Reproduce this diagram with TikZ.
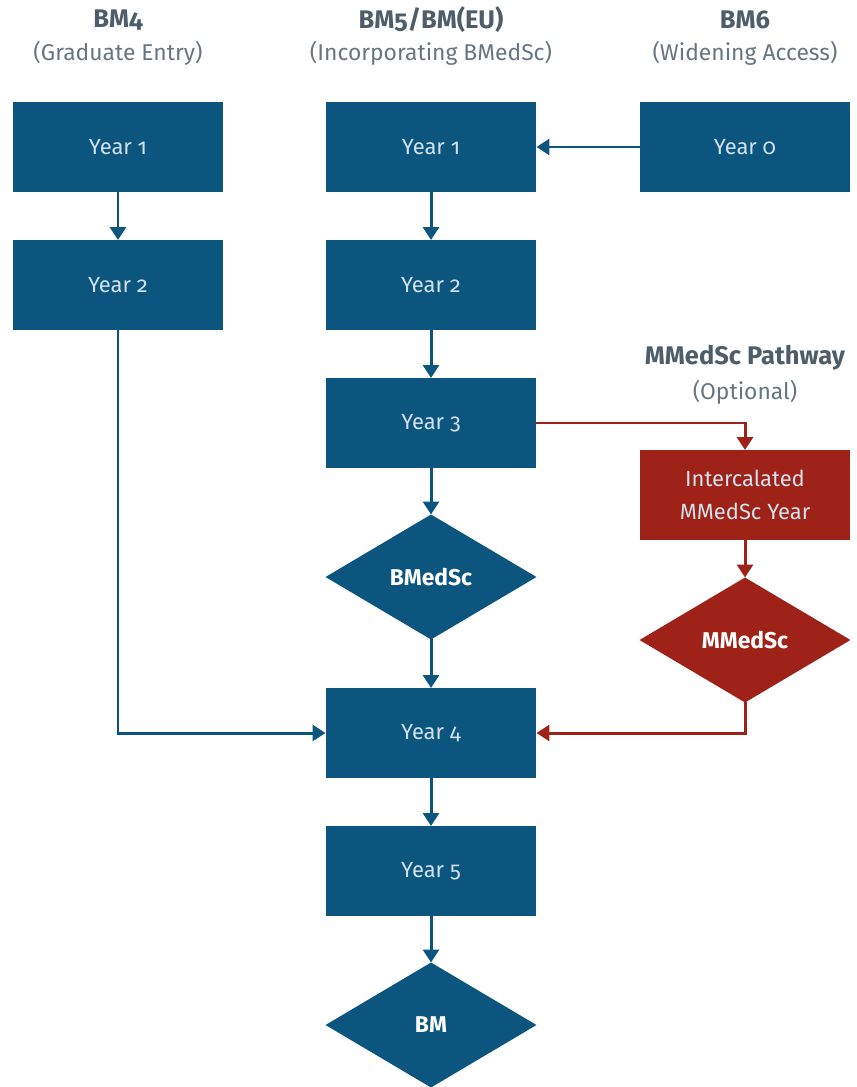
\documentclass[tikz,border=0pt]{standalone}
\usepackage{fontspec}
\setmainfont{Fira Sans}[Numbers=OldStyle]
\usepackage{xcolor}
\usepackage{tikz}
\usetikzlibrary{shapes.geometric,arrows.meta}

\definecolor{navy}{HTML}{0B557E}
\definecolor{brick}{HTML}{9E2217}
\definecolor{headgray}{HTML}{4D5D69}
\definecolor{boxtext}{HTML}{D2E2EC}

\begin{document}
\begin{tikzpicture}[x=0.02cm, y=-0.02cm,
    every node/.style={font=\fontsize{12.5}{15}\selectfont},
    yearbox/.style={rectangle, fill=#1, minimum width=4.22cm, minimum height=1.8cm,
        inner sep=0pt, outer sep=0pt, text=boxtext, align=center},
    yearbox/.default=navy,
    award/.style={diamond, fill=#1, minimum width=4.22cm, minimum height=2.5cm,
        inner sep=0pt, outer sep=0pt, text=white, font=\fontsize{13}{15}\selectfont\bfseries},
    award/.default=navy,
    title/.style={text=headgray, font=\fontsize{14.5}{17}\selectfont\bfseries},
    subtitle/.style={text=headgray!85, font=\fontsize{13}{15}\selectfont},
    flow/.style={draw=#1, line width=1.7pt, -{Triangle[length=2.6mm,width=3.2mm]}},
    flow/.default=navy]
    \useasboundingbox (0,0) rectangle (856,1087);

    % Column headings
    \node[title] (h4) at (118,20) {BM4};
    \node[subtitle] (s4) at (118,53) {(Graduate Entry)};
    \node[title] (h5) at (431,20) {BM5/BM(EU)};
    \node[subtitle] (s5) at (431,53) {(Incorporating BMedSc)};
    \node[title] (h6) at (745,20) {BM6};
    \node[subtitle] (s6) at (745,53) {(Widening Access)};
    \node[title] (hm) at (745,358) {MMedSc Pathway};
    \node[subtitle] (sm) at (745,392) {(Optional)};

    % BM4
    \node[yearbox] (gA) at (118,147) {Year 1};
    \node[yearbox] (gB) at (118,285) {Year 2};

    % BM5 / BM(EU)
    \node[yearbox] (yA) at (431,147) {Year 1};
    \node[yearbox] (yB) at (431,285) {Year 2};
    \node[yearbox] (yC) at (431,423) {Year 3};
    \node[award] (bmedsc) at (431,577) {BMedSc};
    \node[yearbox] (yD) at (431,733) {Year 4};
    \node[yearbox] (yE) at (431,871) {Year 5};
    \node[award] (bm) at (431,1025) {BM};

    % BM6
    \node[yearbox] (y0) at (745,147) {Year 0};

    % MMedSc pathway
    \node[yearbox=brick, font=\fontsize{12.5}{18.5}\selectfont] (inter) at (745,495) {Intercalated\\MMedSc Year};
    \node[award=brick] (mmedsc) at (745,640) {MMedSc};

    % Connectors
    \draw[flow] (gA) -- (gB);
    \draw[flow] (gB) |- (yD);
    \draw[flow] (y0) -- (yA);
    \foreach \from/\to in {yA/yB, yB/yC, yC/bmedsc, bmedsc/yD, yD/yE, yE/bm}
    {
        \draw[flow] (\from) -- (\to);
    }
    \draw[flow=brick] (yC) -| (inter);
    \draw[flow=brick] (inter) -- (mmedsc);
    \draw[flow=brick] (mmedsc) |- (yD);
\end{tikzpicture}
\end{document}
